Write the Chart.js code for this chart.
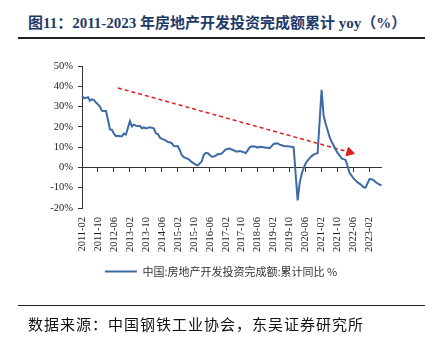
<!DOCTYPE html>
<html>
<head>
<meta charset="utf-8">
<script src="https://cdn.jsdelivr.net/npm/chart.js@4"></script>
<style>
body{margin:0;width:425px;height:339px;position:relative;background:#fff;overflow:hidden}
canvas{position:absolute;left:0;top:0}
.title{position:absolute;left:28px;top:11px;line-height:20px;font:bold 15px "Liberation Serif","Noto Sans CJK SC";color:#1f3a68;white-space:nowrap}
.rule1{position:absolute;left:18px;top:37px;width:407px;height:2px;background:#222}
.rule2{position:absolute;left:18px;top:305px;width:407px;height:1px;background:#222}
.src{position:absolute;left:28px;top:313px;line-height:20px;font:15px "Noto Sans CJK SC";color:#111;letter-spacing:1px;white-space:nowrap}
</style>
</head>
<body>
<div class="title">图11：2011-2023 年房地产开发投资完成额累计 yoy（%）</div>
<div class="rule1"></div>
<canvas id="chart" width="425" height="339"></canvas>
<div class="rule2"></div>
<div class="src">数据来源：中国钢铁工业协会，东吴证券研究所</div>
<script>
// months 2011-02 .. 2023-08
const months = []
for (let y = 2011; y <= 2023; y++) {
    for (let m = 1; m <= 12; m++) {
        if (y === 2011 && m < 2) continue
        if (y === 2023 && m > 8) break
        months.push(y + '-' + (m < 10 ? '0' + m : m))
    }
}

// cumulative yoy %, January has no separate print (null)
const yoy = [
    35.2, 34.1, 34.3, 34.6, 32.9, 33.6, 33.2, 32.0, 31.1, 29.9, 27.9,
    null, 27.8, 23.5, 18.7, 18.5, 16.6, 15.4, 15.6, 15.4, 15.4, 16.7, 16.2,
    null, 22.8, 20.2, 21.1, 20.6, 20.3, 20.5, 19.3, 19.7, 19.2, 19.5, 19.8,
    null, 19.3, 16.8, 16.4, 14.7, 14.1, 13.7, 13.2, 12.5, 12.4, 11.9, 10.5,
    null, 10.4, 8.5, 6.0, 5.1, 4.6, 4.3, 3.5, 2.6, 2.0, 1.3, 1.0,
    null, 3.0, 6.2, 7.2, 7.0, 6.1, 5.3, 5.4, 5.8, 6.6, 6.5, 6.9,
    null, 8.9, 9.1, 9.3, 8.8, 8.5, 7.9, 7.9, 8.1, 7.8, 7.5, 7.0,
    null, 9.9, 10.4, 10.3, 10.2, 9.7, 10.2, 10.1, 9.9, 9.7, 9.7, 9.5,
    null, 11.6, 11.8, 11.9, 11.2, 10.9, 10.6, 10.5, 10.5, 10.3, 10.2, 9.9,
    null, -16.3, -7.7, -3.3, -0.3, 1.9, 3.4, 4.6, 5.6, 6.3, 6.8, 7.0,
    null, 38.3, 25.6, 21.6, 18.3, 15.0, 12.7, 10.9, 8.8, 7.2, 6.0, 4.4,
    null, 3.7, 0.7, -2.7, -4.0, -5.4, -6.4, -7.4, -8.0, -8.8, -9.8, -10.0,
    null, -5.7, -5.8, -6.2, -7.2, -7.9, -8.5, -8.8
]

const tickLabels = ['2011-02','2011-10','2012-06','2013-02','2013-10','2014-06','2015-02','2015-10','2016-06',
    '2017-02','2017-10','2018-06','2019-02','2019-10','2020-06','2021-02','2021-10','2022-06','2023-02']
const yTicks = [-20, -10, 0, 10, 20, 30, 40, 50]

// trend arrow (start, head)
const trendX = ['2012-08', '2022-04']
const trendY = [39.2, 7.5]

const seriesName = '中国:房地产开发投资完成额:累计同比 %'
const blue = '#3d6aa5'
const red = '#e01e1e'
const axisColor = '#333'
const tickFont = { family: 'Liberation Serif', size: 10.5 }

new Chart(document.getElementById('chart'), {
    type: 'line',
    data: {
        labels: months,
        datasets: [{
            label: seriesName,
            data: yoy,
            borderColor: blue,
            backgroundColor: blue,
            borderWidth: 2,
            pointRadius: 0,
            tension: 0,
            spanGaps: true,
            xAxisID: 'x'
        }, {
            label: 'trend',
            data: trendX.map((x, i) => ({ x: x, y: trendY[i] })),
            borderColor: red,
            backgroundColor: red,
            borderWidth: 1.5,
            borderDash: [4, 3],
            pointRadius: [0, 5],
            pointStyle: 'triangle',
            pointRotation: [0, 106],
            pointBorderWidth: 1,
            xAxisID: 'x'
        }]
    },
    options: {
        responsive: false,
        animation: false,
        layout: { padding: { left: 22, right: 5, top: 66, bottom: 52 } },
        scales: {
            x: {
                type: 'category',
                position: { y: 0 },
                grid: {
                    drawOnChartArea: false,
                    tickLength: 4,
                    color: ctx => tickLabels.includes(months[ctx.index]) ? axisColor : 'rgba(0,0,0,0)'
                },
                border: { display: true, color: axisColor, width: 1 },
                ticks: { display: false, autoSkip: false }
            },
            x2: {
                type: 'category',
                position: 'bottom',
                min: months[0],
                max: months[months.length - 1],
                grid: { display: false },
                border: { display: false },
                ticks: {
                    autoSkip: false,
                    minRotation: 90,
                    maxRotation: 90,
                    padding: 1,
                    font: tickFont,
                    color: '#222',
                    callback: function(v) {
                        const l = this.getLabelForValue(v)
                        return tickLabels.includes(l) ? l : ''
                    }
                },
                afterFit: s => { s.height = 50 }
            },
            y: {
                min: -20,
                max: 50,
                grid: { drawOnChartArea: false, tickLength: 4, color: axisColor },
                border: { display: true, color: axisColor, width: 1 },
                ticks: {
                    stepSize: 10,
                    padding: 5,
                    font: tickFont,
                    color: '#222',
                    callback: v => yTicks.includes(v) ? v + '%' : ''
                },
                afterFit: s => { s.width = 60 }
            },
            // empty right axis, only keeps room on the right of the plot
            yPad: {
                position: 'right',
                grid: { display: false },
                border: { display: false },
                ticks: { display: false },
                afterFit: s => { s.width = 38.5 }
            }
        },
        plugins: {
            tooltip: { enabled: false },
            legend: {
                position: 'bottom',
                labels: {
                    boxWidth: 32,
                    boxHeight: 2,
                    padding: 8,
                    color: '#333',
                    font: { family: 'Noto Sans CJK SC', size: 11 },
                    filter: item => item.datasetIndex === 0,
                    generateLabels: chart => Chart.defaults.plugins.legend.labels.generateLabels(chart)
                        .map(it => Object.assign(it, { lineWidth: 0 }))
                }
            }
        }
    }
})
</script>
</body>
</html>
